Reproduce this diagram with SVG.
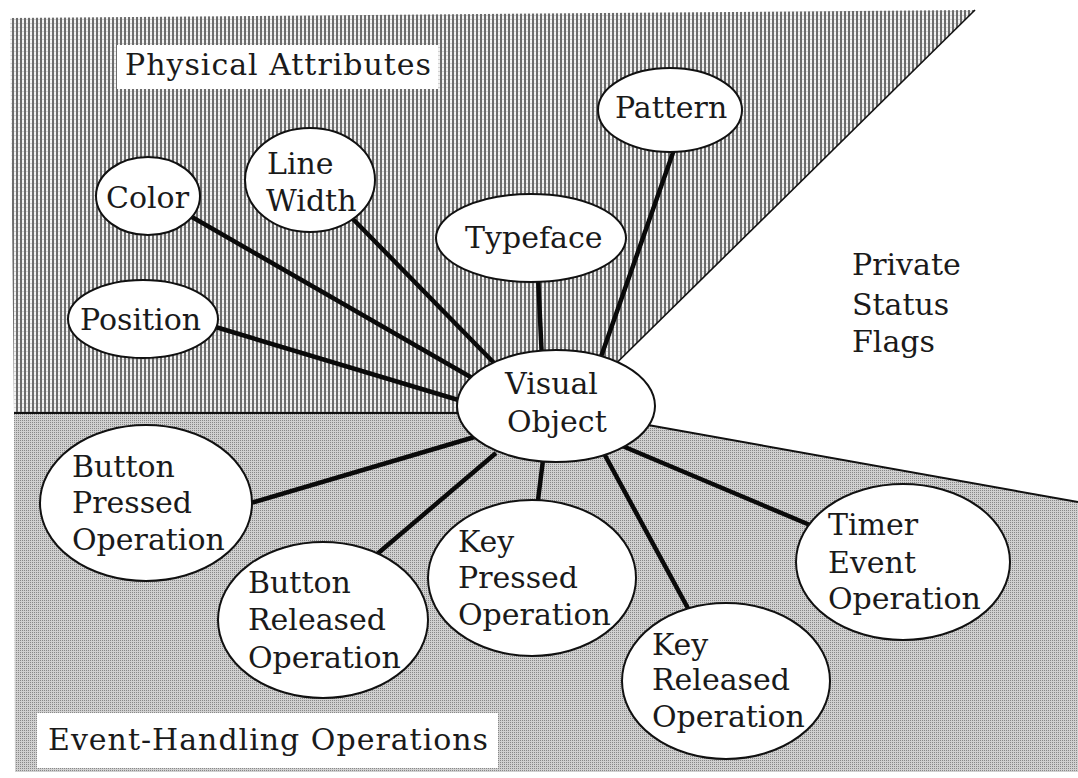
<svg xmlns="http://www.w3.org/2000/svg" width="1078" height="778" viewBox="0 0 1078 778">
  <defs>
    <!-- vertical ruling for the attribute zone -->
    <pattern id="ruled" patternUnits="userSpaceOnUse" width="4" height="4">
      <rect width="4" height="4" fill="#f2f2f2"/>
      <rect x="0" y="0" width="2" height="4" fill="#6c6c6c"/>
      <rect x="2" y="3" width="2" height="1" fill="#d0d0d0"/>
    </pattern>
    <!-- fine stipple for the event zone -->
    <pattern id="stipple" patternUnits="userSpaceOnUse" width="2" height="2">
      <rect width="2" height="2" fill="#d0d0d0"/>
      <rect x="0" y="0" width="1" height="1" fill="#888888"/>
    </pattern>
    <style>
      .node ellipse { fill: #ffffff; stroke: #111111; stroke-width: 2; }
      .lbl { font-family: "DejaVu Serif", "Liberation Serif", serif; font-size: 30px; fill: #1a1a1a; }
      .conn line { stroke: #0a0a0a; stroke-width: 4.5; stroke-linecap: butt; }
      .edge { stroke: #111111; fill: none; }
    </style>
  </defs>

  <rect width="1078" height="778" fill="#ffffff"/>

  <!-- zones -->
  <g id="zones">
    <polygon points="10,18 975,10 570,409 556,413 14,413" fill="url(#ruled)"/>
    <polygon points="14,413 600,413 600,416 1078,502 1078,772 15,772" fill="url(#stipple)"/>
    <line class="edge" x1="975" y1="10" x2="580" y2="399" stroke-width="1.6"/>
    <line class="edge" x1="14" y1="413" x2="500" y2="413" stroke-width="2"/>
    <line class="edge" x1="620" y1="420" x2="1078" y2="502" stroke-width="2"/>
  </g>

  <!-- zone captions -->
  <g id="caption-physical">
    <rect x="117" y="45" width="321" height="44" fill="#ffffff"/>
    <text class="lbl" x="125" y="75" textLength="306" lengthAdjust="spacing">Physical Attributes</text>
  </g>
  <g id="caption-events">
    <rect x="37" y="713" width="461" height="55" fill="#ffffff"/>
    <text class="lbl" x="48" y="750" textLength="440" lengthAdjust="spacing">Event-Handling Operations</text>
  </g>
  <g id="caption-private">
    <text class="lbl" x="852" y="275">Private</text>
    <text class="lbl" x="852" y="315">Status</text>
    <text class="lbl" x="852" y="352">Flags</text>
  </g>

  <!-- connectors -->
  <g id="connectors" class="conn">
    <line x1="675" y1="147" x2="597" y2="368"/>
    <line x1="538" y1="276" x2="542" y2="360"/>
    <line x1="350" y1="216" x2="499" y2="368"/>
    <line x1="185" y1="213" x2="474" y2="379"/>
    <line x1="209" y1="325" x2="465" y2="402"/>
    <line x1="244" y1="505" x2="478" y2="436"/>
    <line x1="376" y1="555" x2="496" y2="453"/>
    <line x1="537" y1="508" x2="543" y2="460"/>
    <line x1="601" y1="448" x2="690" y2="612"/>
    <line x1="620" y1="445" x2="817" y2="528"/>
  </g>

  <!-- nodes -->
  <g id="visual-object" class="node">
    <ellipse cx="556" cy="406" rx="99" ry="56"/>
    <text class="lbl" x="505" y="394">Visual</text>
    <text class="lbl" x="507" y="432">Object</text>
  </g>
  <g id="pattern" class="node">
    <ellipse cx="670" cy="110" rx="72" ry="42"/>
    <text class="lbl" x="615" y="118">Pattern</text>
  </g>
  <g id="typeface" class="node">
    <ellipse cx="531" cy="238" rx="95" ry="44"/>
    <text class="lbl" x="465" y="248">Typeface</text>
  </g>
  <g id="line-width" class="node">
    <ellipse cx="310" cy="180" rx="65" ry="52"/>
    <text class="lbl" x="267" y="174">Line</text>
    <text class="lbl" x="266" y="211">Width</text>
  </g>
  <g id="color" class="node">
    <ellipse cx="148" cy="196" rx="52" ry="39"/>
    <text class="lbl" x="106" y="208">Color</text>
  </g>
  <g id="position" class="node">
    <ellipse cx="143" cy="319" rx="75" ry="39"/>
    <text class="lbl" x="80" y="330">Position</text>
  </g>
  <g id="button-pressed" class="node">
    <ellipse cx="146" cy="503" rx="106" ry="78"/>
    <text class="lbl" x="72" y="477">Button</text>
    <text class="lbl" x="72" y="513">Pressed</text>
    <text class="lbl" x="72" y="550">Operation</text>
  </g>
  <g id="button-released" class="node">
    <ellipse cx="323" cy="620" rx="105" ry="78"/>
    <text class="lbl" x="248" y="593">Button</text>
    <text class="lbl" x="248" y="630">Released</text>
    <text class="lbl" x="248" y="668">Operation</text>
  </g>
  <g id="key-pressed" class="node">
    <ellipse cx="532" cy="578" rx="104" ry="78"/>
    <text class="lbl" x="458" y="552">Key</text>
    <text class="lbl" x="458" y="588">Pressed</text>
    <text class="lbl" x="458" y="625">Operation</text>
  </g>
  <g id="key-released" class="node">
    <ellipse cx="726" cy="681" rx="104" ry="78"/>
    <text class="lbl" x="652" y="655">Key</text>
    <text class="lbl" x="652" y="690">Released</text>
    <text class="lbl" x="652" y="727">Operation</text>
  </g>
  <g id="timer-event" class="node">
    <ellipse cx="903" cy="562" rx="107" ry="78"/>
    <text class="lbl" x="828" y="535">Timer</text>
    <text class="lbl" x="828" y="573">Event</text>
    <text class="lbl" x="828" y="609">Operation</text>
  </g>
</svg>
